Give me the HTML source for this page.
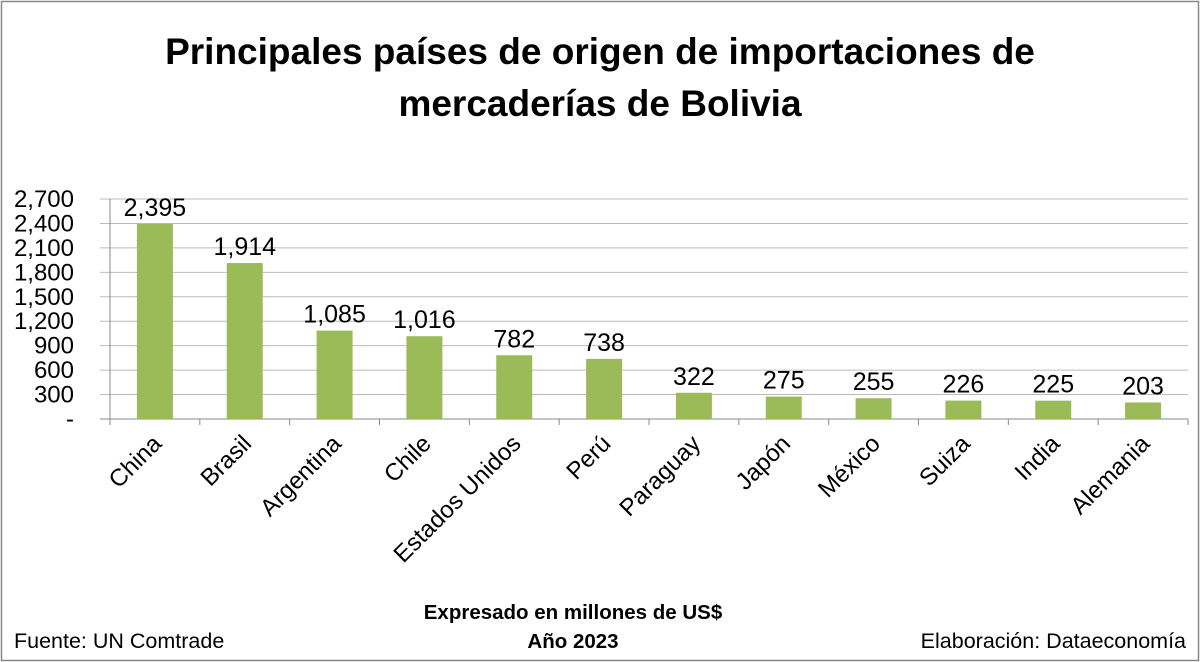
<!DOCTYPE html>
<html><head><meta charset="utf-8"><style>
body{margin:0;background:#fff;}
svg{display:block;font-family:"Liberation Sans",sans-serif;}
</style></head><body>
<svg id="c" width="1200" height="662">
<rect x="1.5" y="1.5" width="1197" height="659" fill="#fff" stroke="#888" stroke-width="1.5"/>
<text x="600" y="64" text-anchor="middle" font-size="37" font-weight="bold">Principales países de origen de importaciones de</text>
<text x="600" y="116" text-anchor="middle" font-size="37" font-weight="bold">mercaderías de Bolivia</text>
<g id="grid"></g><g id="bars"></g><g id="labels"></g>
<text x="573" y="619" text-anchor="middle" font-size="20.5" font-weight="bold">Expresado en millones de US$</text>
<text x="573" y="648" text-anchor="middle" font-size="20.5" font-weight="bold">Año 2023</text>
<text x="14" y="648" font-size="21.5">Fuente: UN Comtrade</text>
<text x="1186" y="648" text-anchor="end" font-size="21.5">Elaboración: Dataeconomía</text>
</svg>
<script>
const categories=["China","Brasil","Argentina","Chile","Estados Unidos","Perú","Paraguay","Japón","México","Suiza","India","Alemania"];
const values=[2395,1914,1085,1016,782,738,322,275,255,226,225,203];
const yTicks=[0,300,600,900,1200,1500,1800,2100,2400,2700];
const yTickLabels=["-","300","600","900","1,200","1,500","1,800","2,100","2,400","2,700"];
const NS="http://www.w3.org/2000/svg";
const x0=110,x1=1188,y0=419,yTop=199,yMax=2700;
const bw=(x1-x0)/categories.length;
const y=v=>y0-(v/yMax)*(y0-yTop);
const xc=i=>x0+bw*(i+0.5);
function mk(t,a,p){const e=document.createElementNS(NS,t);for(const k in a)e.setAttribute(k,a[k]);document.getElementById(p).appendChild(e);return e;}
const fmt=v=>v.toLocaleString("en-US");
yTicks.forEach((t,i)=>{
  const l=mk("line",{x1:100,x2:x1,y1:y(t),y2:y(t),stroke:i===0?"#888":"#bbb","stroke-width":1},"grid");
  
  
  const tx=mk("text",{x:74,y:y(t)+8,"text-anchor":"end","font-size":24},"grid");
  tx.textContent=yTickLabels[i];
  
  
});
const ax=mk("line",{x1:x0,x2:x0,y1:yTop,y2:y0,stroke:"#888"},"grid");


for(let i=0;i<=categories.length;i++){
  const tk=mk("line",{x1:x0+bw*i,x2:x0+bw*i,y1:y0,y2:y0+6,stroke:"#888"},"grid");
  
  
}
categories.forEach((c,i)=>{
  const w=36;
  const r=mk("rect",{x:xc(i)-w/2,y:y(values[i]),width:w,height:y0-y(values[i]),fill:"#9bbb59"},"bars");
  
  
  const v=mk("text",{x:xc(i),y:y(values[i])-8,"text-anchor":"middle","font-size":25},"labels");
  v.textContent=fmt(values[i]);
  
  
  const cx=xc(i)+8,cy=y0+26;
  const t=mk("text",{x:cx,y:cy,"text-anchor":"end","font-size":24,transform:`rotate(-45 ${cx} ${cy})`},"labels");
  t.textContent=c;
  
  
});
</script>
</body></html>
